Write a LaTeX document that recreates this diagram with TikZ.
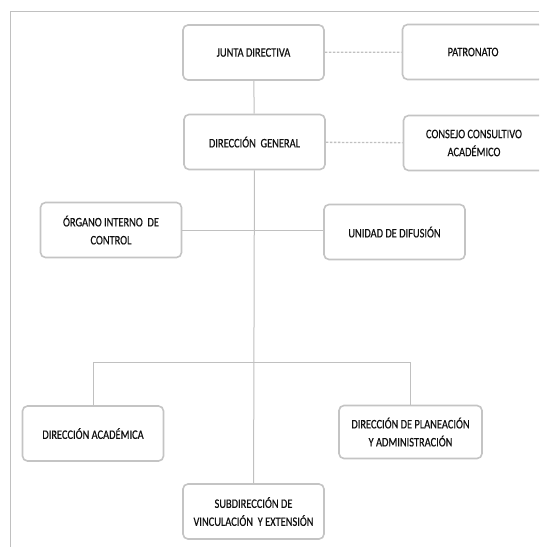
\documentclass[tikz,border=0pt]{standalone}
\usepackage{fontspec}
\newfontfamily\orgfont[FakeStretch=0.8, FakeBold=0.4]{Carlito}
\definecolor{boxline}{HTML}{C4C4C4}
\definecolor{linkline}{HTML}{C0C0C0}
\definecolor{orgtext}{HTML}{111111}
\tikzset{
  unit/.style={draw=boxline, line width=1.6pt, rounded corners=5pt, fill=white,
               minimum width=141pt, minimum height=55pt, align=center,
               font=\orgfont\fontsize{13}{18}\selectfont, text=orgtext, inner sep=2pt},
  link/.style={draw=linkline, line width=1pt},
  advisory/.style={link, line width=1.3pt, dash pattern=on 2.5pt off 1.5pt},
}
\begin{document}
\begin{tikzpicture}[x=1pt, y=-1pt]
    \path[use as bounding box, clip] (0,0) rectangle (539,547);
    \fill[white] (0,0) rectangle (539,547);
    % frame
    \draw[link] (10,547) -- (10,11) -- (539,11);
    % boxes
    \node[unit] (jd) at (253.5, 52.5) {JUNTA DIRECTIVA};
    \node[unit] (pat) at (473, 52) {PATRONATO};
    \node[unit] (dg) at (254.5, 142) {DIRECCIÓN\ \ GENERAL};
    \node[unit] (ccons) at (474, 143) {CONSEJO CONSULTIVO\\ACADÉMICO};
    \node[unit] (org) at (111, 230) {ÓRGANO INTERNO\ \ DE\\CONTROL};
    \node[unit] (uni) at (394.5, 232) {UNIDAD DE DIFUSIÓN};
    \node[unit] (acad) at (93, 433.5) {DIRECCIÓN ACADÉMICA};
    \node[unit, minimum width=143pt, minimum height=53pt] (plan) at (410.5, 432) {DIRECCIÓN DE PLANEACIÓN\\Y ADMINISTRACIÓN};
    \node[unit] (sub) at (253.5, 511.5) {SUBDIRECCIÓN DE\\VINCULACIÓN\ \ Y EXTENSIÓN};
    % connectors
    \coordinate (bar) at (254, 362);
    \draw[link] (jd) -- (dg);
    \draw[link] (dg) -- (sub);
    \draw[link] (org.east) -- (uni.west |- org.east);
    \draw[link] (acad.north) -- (acad.north |- bar) -- (plan.north |- bar) -- (plan.north);
    \draw[advisory] (jd) -- (pat);
    \draw[advisory] (dg) -- (ccons);
  \end{tikzpicture}
\end{document}
